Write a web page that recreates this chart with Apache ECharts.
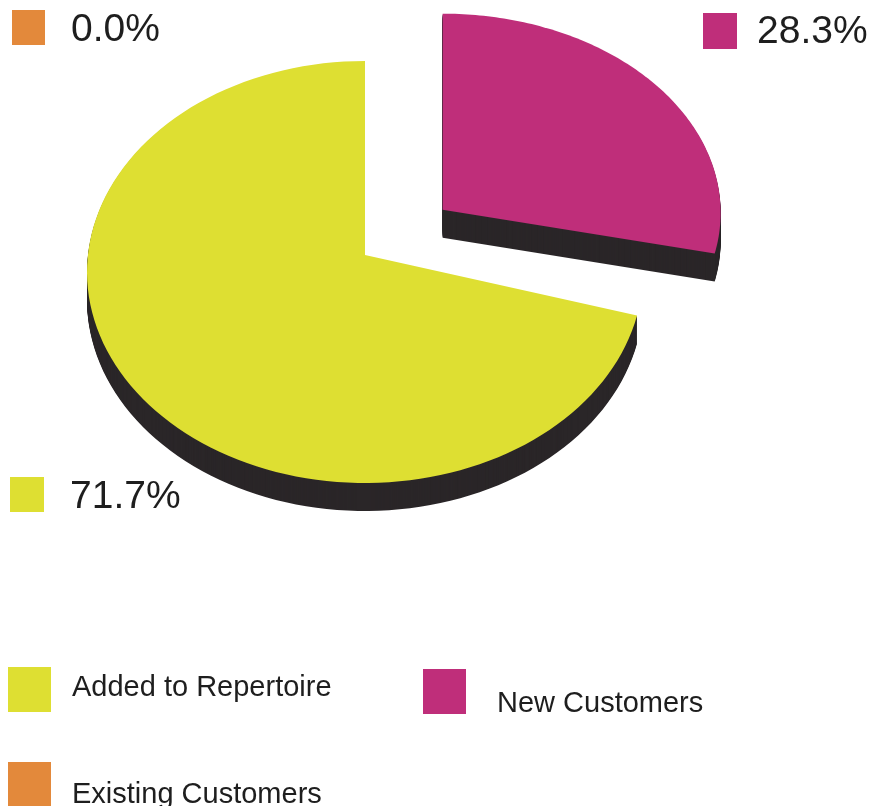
<!DOCTYPE html>
<html>
<head>
<meta charset="utf-8">
<script src="https://cdn.jsdelivr.net/npm/echarts@6/dist/echarts.min.js"></script>
<style>
  html, body { margin: 0; padding: 0; background: #fff; }
  #main { width: 877px; height: 806px; }
</style>
</head>
<body>
<div id="main"></div>
<script>
// data
var categories = ['Added to Repertoire', 'New Customers', 'Existing Customers'];
var shares = [71.7, 28.3, 0.0];
var percentLabels = ['71.7%', '28.3%', '0.0%'];

// look
var colors = ['#dedf32', '#bf2e7a', '#e3893b'];
var sideColor = '#2a2628';
var explode = [0, 100, 0];
var CX = 365, CY = 255;      // pie apex
var RX = 278;
var ryBySlice = [211, 199, 205];   // fake perspective: the back slice looks flatter
var dropBySlice = [17, 3, 10];     // ellipse centre below the apex
var TILT = 0.72;
var DEPTH = 28;
var FONT = '"Liberation Sans", Arial, sans-serif';

var total = shares.reduce(function (a, b) { return a + b; }, 0);

function sliceRenderer(idx) {
  return function (params, api) {
    var v = api.value(0);
    if (!(v > 0)) return { type: 'group', children: [] };
    var before = 0;
    for (var i = 0; i < idx; i++) before += shares[i];
    // counter-clockwise from 12 o'clock
    var a0 = -before / total * Math.PI * 2;
    var a1 = -(before + v) / total * Math.PI * 2;
    var mid = (a0 + a1) / 2;
    var vx = CX + explode[idx] * Math.sin(mid);
    var vy = CY - explode[idx] * Math.cos(mid) * TILT;
    var ex = vx, ey = vy + dropBySlice[idx], ry = ryBySlice[idx];
    var pts = [[vx, vy]];
    var n = 120;
    for (var k = 0; k <= n; k++) {
      var a = a0 + (a1 - a0) * k / n;
      pts.push([ex + RX * Math.sin(a), ey - ry * Math.cos(a)]);
    }
    var children = [];
    for (var d = DEPTH; d >= 1; d -= 1) {
      children.push({
        type: 'polygon',
        shape: { points: pts.map(function (p) { return [p[0], p[1] + d]; }) },
        style: { fill: sideColor }
      });
    }
    children.push({
      type: 'polygon',
      shape: { points: pts },
      style: { fill: colors[idx] }
    });
    return { type: 'group', children: children };
  };
}

var series = categories.map(function (name, i) {
  return {
    name: name,
    type: 'custom',
    coordinateSystem: 'none',
    silent: true,
    itemStyle: { color: colors[i] },
    renderItem: sliceRenderer(i),
    data: [[shares[i]]]
  };
});

var graphics = [];
function swatchWithText(color, box, text, tx, ty, size) {
  graphics.push({
    type: 'rect',
    shape: box,
    style: { fill: color },
    silent: true
  });
  graphics.push({
    type: 'text',
    x: tx,
    y: ty,
    style: {
      text: text,
      font: size + 'px ' + FONT,
      fill: '#1e1e1e',
      verticalAlign: 'middle'
    },
    silent: true
  });
}

// percent tags at the corners
var tagSpots = [
  { box: { x: 10, y: 477, width: 34, height: 35 }, tx: 70, ty: 497 },
  { box: { x: 703, y: 13, width: 34, height: 36 }, tx: 757, ty: 32 },
  { box: { x: 12, y: 10, width: 33, height: 35 }, tx: 71, ty: 30 }
];
percentLabels.forEach(function (txt, i) {
  var s = tagSpots[i];
  swatchWithText(colors[i], s.box, txt, s.tx, s.ty, 39);
});

// legend at the bottom
var legendSpots = [
  { box: { x: 8, y: 667, width: 43, height: 45 }, tx: 72, ty: 688 },
  { box: { x: 423, y: 669, width: 43, height: 45 }, tx: 497, ty: 704 },
  { box: { x: 8, y: 762, width: 43, height: 45 }, tx: 72, ty: 795 }
];
categories.forEach(function (name, i) {
  var s = legendSpots[i];
  swatchWithText(colors[i], s.box, name, s.tx, s.ty, 29);
});

var myChart = echarts.init(document.getElementById('main'));
myChart.setOption({
  animation: false,
  backgroundColor: '#fff',
  graphic: graphics,
  series: series
});
</script>
</body>
</html>
